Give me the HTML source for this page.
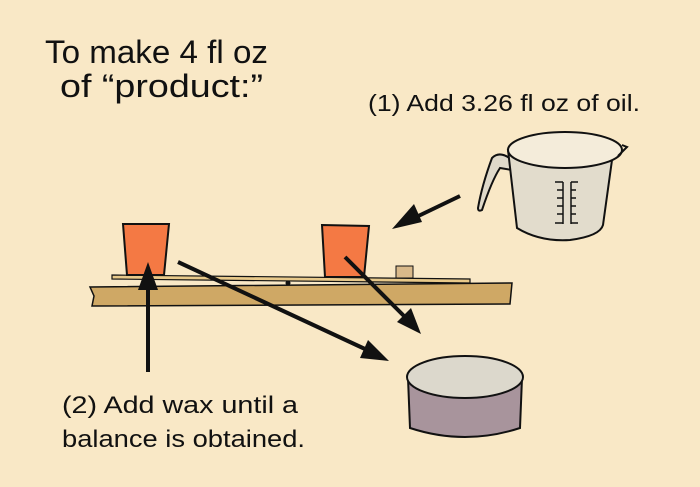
<!DOCTYPE html>
<html><head><style>body{margin:0;background:#f9e8c6}svg{display:block}</style></head><body>
<svg width="700" height="487" viewBox="0 0 700 487" xmlns="http://www.w3.org/2000/svg" font-family="Liberation Sans, sans-serif">
<rect width="700" height="487" fill="#f9e8c6"/>
<text x="45" y="63" font-size="32" fill="#111" textLength="223" lengthAdjust="spacingAndGlyphs">To make 4 fl oz</text>
<text x="60" y="97" font-size="32" fill="#111" textLength="203" lengthAdjust="spacingAndGlyphs">of “product:”</text>
<text x="368" y="111" font-size="23" fill="#111" textLength="272" lengthAdjust="spacingAndGlyphs">(1) Add 3.26 fl oz of oil.</text>
<text x="62" y="413" font-size="24" fill="#111" textLength="236" lengthAdjust="spacingAndGlyphs">(2) Add wax until a</text>
<text x="62" y="447" font-size="24" fill="#111" textLength="243" lengthAdjust="spacingAndGlyphs">balance is obtained.</text>
<!-- board -->
<polygon points="90,287 512,283 510,304 92,306 94,296" fill="#cfa865" stroke="#111" stroke-width="1.5"/>
<polygon points="112,275 470,279 470,283 112,279" fill="#e8c98a" stroke="#111" stroke-width="1.2"/>
<circle cx="288" cy="283" r="2.5" fill="#111"/>
<rect x="396" y="266" width="17" height="12" fill="#d9b98a" stroke="#111" stroke-width="1"/>
<!-- cups -->
<polygon points="123,224 169,224 164,275 127,275" fill="#f47944" stroke="#111" stroke-width="2"/>
<polygon points="322,225 369,226 364,277 325,277" fill="#f47944" stroke="#111" stroke-width="2"/>
<!-- measuring cup -->
<path d="M512,160 Q500,150 492,158 Q482,185 478,208 Q478,212 482,210 Q492,180 500,168 L512,170 Z" fill="#dfd9ca" stroke="#111" stroke-width="2"/>
<path d="M508,150 L517,228 Q540,242 570,240 Q600,236 603,225 L612,160 Z" fill="#e2dccc" stroke="#111" stroke-width="2"/>
<ellipse cx="565" cy="150" rx="57" ry="18" fill="#f4ecda" stroke="#111" stroke-width="2"/>
<path d="M622,145 L627,147 L618,156" fill="none" stroke="#111" stroke-width="2"/>
<g stroke="#111" stroke-width="1.5" fill="none">
<path d="M563,182 V224 M571,182 V224 M555,182 H563 M557,190 H563 M557,198 H563 M557,206 H563 M557,214 H563 M555,223 H563 M571,182 H578 M571,190 H576 M571,198 H576 M571,206 H576 M571,214 H576 M571,223 H578"/>
</g>
<!-- bowl -->
<path d="M408,378 L410,428 Q465,446 520,428 L522,378 Z" fill="#a8949c" stroke="#111" stroke-width="2"/>
<ellipse cx="465" cy="377" rx="58" ry="21" fill="#dcd8cc" stroke="#111" stroke-width="2"/>
<!-- arrows -->
<g stroke="#111" stroke-width="4">
<line x1="460" y1="196" x2="410" y2="220"/>
<line x1="148" y1="372" x2="148" y2="285"/>
<line x1="178" y1="262" x2="365" y2="349"/>
<line x1="345" y1="257" x2="405" y2="317"/>
</g>
<g fill="#111">
<polygon points="392,229 414,204 422,222"/>
<polygon points="148,262 138,290 158,290"/>
<polygon points="389,361 360,358 368,340"/>
<polygon points="421,334 397,322 411,308"/>
</g>
</svg>
</body></html>
